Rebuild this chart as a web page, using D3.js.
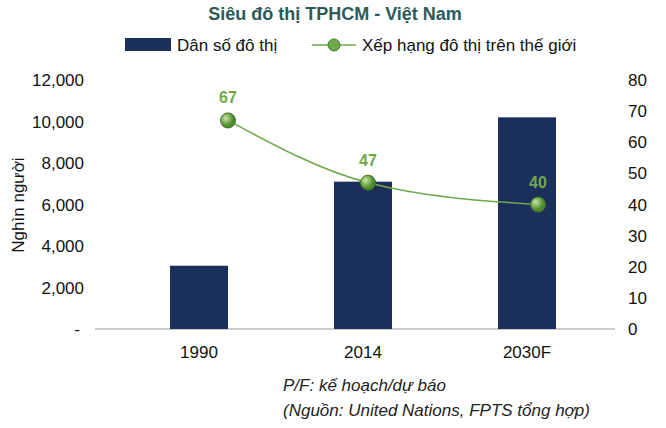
<!DOCTYPE html>
<html><head><meta charset="utf-8">
<script src="https://cdn.jsdelivr.net/npm/d3@7"></script>
<style>body{margin:0;background:#fff;font-family:Arial,"Liberation Sans",sans-serif}</style>
</head><body><svg id="c" width="666" height="428"></svg>
<script>
var categories = ["1990", "2014", "2030F"];
var population = [3050, 7100, 10200];
var rank = [67, 47, 40];
var leftTicks = [0, 2000, 4000, 6000, 8000, 10000, 12000];
var rightTicks = [0, 10, 20, 30, 40, 50, 60, 70, 80];

var svg = d3.select("#c");
var barColor = "#1b2f5b", lineColor = "#6fa84a", titleColor = "#2b5a5a";
var barW = 58;

var x = d3.scalePoint().domain(categories).range([199, 527]);
var yL = d3.scaleLinear().domain([0, 12000]).range([329, 80]);
var yR = d3.scaleLinear().domain([0, 80]).range([329, 80]);

svg.append("text").attr("x", 335).attr("y", 20).attr("text-anchor", "middle")
	.attr("font-size", 18).attr("font-weight", "bold").attr("fill", titleColor)
	.text("Siêu đô thị TPHCM - Việt Nam");

//Legend
var lg = svg.append("g").attr("font-size", 17).attr("fill", "#111");
lg.append("rect").attr("x", 125).attr("y", 38).attr("width", 46).attr("height", 13).attr("fill", barColor);
lg.append("text").attr("x", 177).attr("y", 51).text("Dân số đô thị");
lg.append("line").attr("x1", 312).attr("x2", 356).attr("y1", 45).attr("y2", 45).attr("stroke", lineColor).attr("stroke-width", 1.5);
lg.append("circle").attr("cx", 334).attr("cy", 45).attr("r", 6).attr("fill", lineColor).attr("stroke", "#3d7a2a");
lg.append("text").attr("x", 362).attr("y", 51).text("Xếp hạng đô thị trên thế giới");

//Axes
var fmt = d3.format(",");
svg.append("g").attr("font-size", 17).attr("fill", "#111").selectAll("text").data(leftTicks).enter().append("text")
	.attr("x", function(d){ return d === 0 ? 80 : 84; }).attr("y", function(d){ return yL(d) + 6; })
	.attr("text-anchor", "end").text(function(d){ return d === 0 ? "-" : fmt(d); });
svg.append("g").attr("font-size", 17).attr("fill", "#111").selectAll("text").data(rightTicks).enter().append("text")
	.attr("x", 628).attr("y", function(d){ return yR(d) + 6; })
	.text(function(d){ return d; });

svg.append("line").attr("x1", 95).attr("x2", 615).attr("y1", 329).attr("y2", 329).attr("stroke", "#999");
svg.append("g").attr("font-size", 17).attr("fill", "#111").selectAll("text").data(categories).enter().append("text")
	.attr("x", function(d){ return x(d); }).attr("y", 358)
	.attr("text-anchor", "middle").text(function(d){ return d; });

svg.append("text").attr("transform", "translate(24,205)rotate(-90)").attr("text-anchor", "middle")
	.attr("font-size", 17).attr("fill", "#111").text("Nghìn người");

//Bars
svg.append("g").selectAll("rect").data(categories).enter().append("rect")
	.attr("x", function(d){ return x(d) - barW / 2; })
	.attr("y", function(d, i){ return yL(population[i]); })
	.attr("width", barW)
	.attr("height", function(d, i){ return yL(0) - yL(population[i]); })
	.attr("fill", barColor);

//Line (markers sit slightly right of bar centres in the original)
var offsets = [29, 5, 11];
var pts = categories.map(function(d, i){ return [x(d) + offsets[i], yR(rank[i])]; });
svg.append("path").attr("d", d3.line().curve(d3.curveMonotoneX)(pts))
	.attr("fill", "none").attr("stroke", lineColor).attr("stroke-width", 1.5);
var grad = svg.append("defs").append("radialGradient").attr("id", "g").attr("cx", "35%").attr("cy", "35%");
grad.append("stop").attr("offset", "0%").attr("stop-color", "#c8e6a0");
grad.append("stop").attr("offset", "100%").attr("stop-color", "#4e8a2e");
svg.append("g").selectAll("circle").data(pts).enter().append("circle")
	.attr("cx", function(d){ return d[0]; }).attr("cy", function(d){ return d[1]; })
	.attr("r", 7.5).attr("fill", "url(#g)").attr("stroke", "#3d6e26");
svg.append("g").selectAll("text").data(pts).enter().append("text")
	.attr("x", function(d){ return d[0]; }).attr("y", function(d){ return d[1] - 17; })
	.attr("text-anchor", "middle").attr("font-size", 16).attr("font-weight", "bold").attr("fill", "#6fa84a")
	.text(function(d, i){ return rank[i]; });

//Footnote
var fn = svg.append("g").attr("font-size", 17).attr("font-style", "italic").attr("fill", "#222");
fn.append("text").attr("x", 283).attr("y", 391).text("P/F: kế hoạch/dự báo");
fn.append("text").attr("x", 283).attr("y", 416).text("(Nguồn: United Nations, FPTS tổng hợp)");
</script></body></html>
